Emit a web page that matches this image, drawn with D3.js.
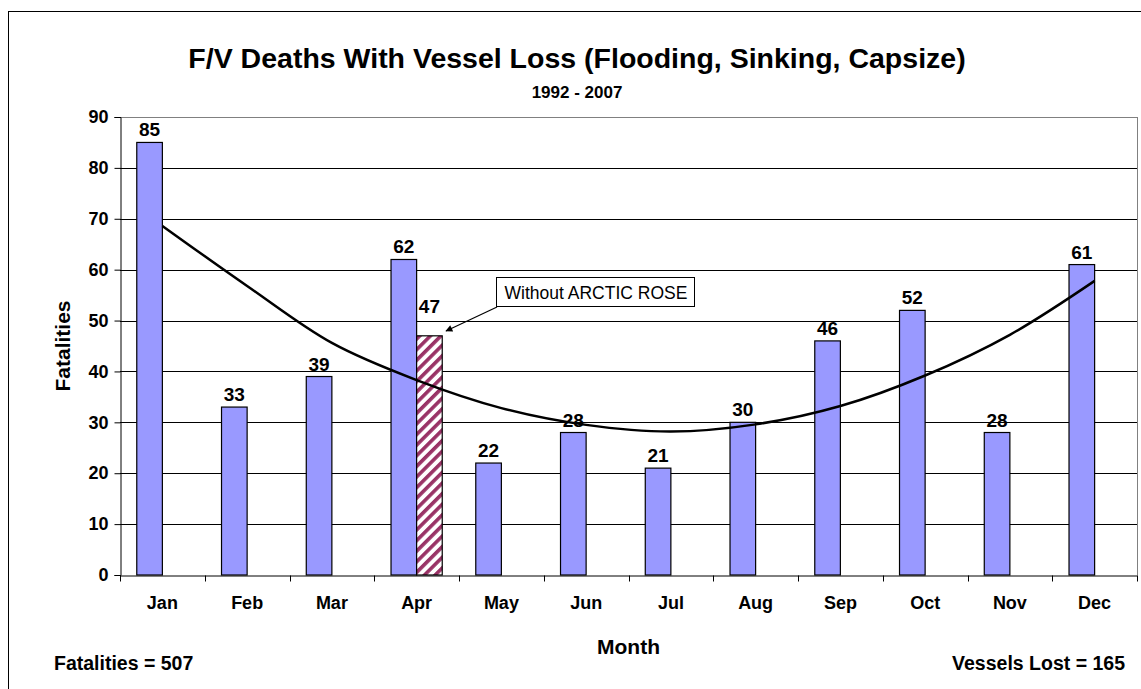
<!DOCTYPE html>
<html lang="en">
<head>
<meta charset="UTF-8">
<script src="https://d3js.org/d3.v7.min.js"></script>
<style>
    body { margin: 0; background: #fff; }
    svg text { font-family: Arial, "Liberation Sans", sans-serif; fill: #000; }
    .bold { font-weight: bold; }
</style>
<title>F/V Deaths With Vessel Loss</title>
</head>
<body>
<svg id="chart" width="1141" height="689"></svg>
<script>
    // data
    var months = ["Jan", "Feb", "Mar", "Apr", "May", "Jun", "Jul", "Aug", "Sep", "Oct", "Nov", "Dec"];
    var fatalities = [85, 33, 39, 62, 22, 28, 21, 30, 46, 52, 28, 61];
    var withoutArcticRose = [null, null, null, 47, null, null, null, null, null, null, null, null];
    // trendline as drawn (read at each month)
    var trend = [68.6, 56.8, 45.6, 38.3, 32.8, 29.5, 28.2, 29.6, 33.2, 39.2, 47.2, 57.8];
    var yTicks = [0, 10, 20, 30, 40, 50, 60, 70, 80, 90];

    var svg = d3.select("#chart");
    var plot = {left: 120, right: 1137, top: 117, bottom: 575};

    // hatch pattern for the "without ARCTIC ROSE" bar
    var defs = svg.append("defs");
    var pat = defs.append("pattern")
        .attr("id", "hatch")
        .attr("patternUnits", "userSpaceOnUse")
        .attr("width", 7.5).attr("height", 7.5)
        .attr("patternTransform", "rotate(45)");
    pat.append("rect").attr("width", 7.5).attr("height", 7.5).attr("fill", "#fff");
    pat.append("rect").attr("width", 3.6).attr("height", 7.5).attr("fill", "#993366");

    defs.append("marker")
        .attr("id", "arrow")
        .attr("viewBox", "0 0 10 10")
        .attr("refX", 9).attr("refY", 5)
        .attr("markerWidth", 10).attr("markerHeight", 7)
        .attr("markerUnits", "userSpaceOnUse")
        .attr("orient", "auto")
        .append("path").attr("d", "M0,0 L10,5 L0,10 z").attr("fill", "#000");

    // outer frame (runs off the right and bottom edges)
    svg.append("rect")
        .attr("x", 8.5).attr("y", 11.5)
        .attr("width", 1200).attr("height", 700)
        .attr("fill", "none").attr("stroke", "#000");

    var x = d3.scaleBand().domain(months).range([plot.left, plot.right]);
    var xSub = d3.scaleBand().domain(["all", "without"])
        .range([0, x.bandwidth()]).paddingOuter(0.655);
    var y = d3.scaleLinear().domain([0, 90]).range([plot.bottom, plot.top]);

    // gridlines
    svg.append("g").selectAll("line")
        .data(yTicks.slice(1))
        .enter().append("line")
        .attr("x1", plot.left).attr("x2", plot.right)
        .attr("y1", function (d) { return Math.round(y(d)) + 0.5; })
        .attr("y2", function (d) { return Math.round(y(d)) + 0.5; })
        .attr("stroke", function (d) { return d == 90 ? "#808080" : "#000"; });

    // right border of plot area
    svg.append("line")
        .attr("x1", plot.right + 0.5).attr("x2", plot.right + 0.5)
        .attr("y1", plot.top).attr("y2", plot.bottom)
        .attr("stroke", "#808080");

    // bars
    svg.append("g").selectAll("rect")
        .data(fatalities)
        .enter().append("rect")
        .attr("x", function (d, i) { return x(months[i]) + xSub("all"); })
        .attr("y", function (d) { return y(d); })
        .attr("width", xSub.bandwidth())
        .attr("height", function (d) { return y(0) - y(d); })
        .attr("fill", "#9999ff")
        .attr("stroke", "#000").attr("stroke-width", 1.2);

    var hatched = withoutArcticRose.map(function (d, i) { return {m: months[i], v: d}; })
        .filter(function (d) { return d.v != null; });

    svg.append("g").selectAll("rect")
        .data(hatched)
        .enter().append("rect")
        .attr("x", function (d) { return x(d.m) + xSub("without"); })
        .attr("y", function (d) { return y(d.v); })
        .attr("width", xSub.bandwidth())
        .attr("height", function (d) { return y(0) - y(d.v); })
        .attr("fill", "url(#hatch)")
        .attr("stroke", "#000").attr("stroke-width", 1.2);

    // data labels
    svg.append("g").selectAll("text")
        .data(fatalities)
        .enter().append("text")
        .attr("class", "bold")
        .attr("x", function (d, i) { return x(months[i]) + xSub("all") + xSub.bandwidth() / 2; })
        .attr("y", function (d) { return y(d) - 6; })
        .attr("text-anchor", "middle")
        .style("font-size", "19px")
        .text(function (d) { return d; });

    svg.append("g").selectAll("text")
        .data(hatched)
        .enter().append("text")
        .attr("class", "bold")
        .attr("x", function (d) { return x(d.m) + xSub("without") + xSub.bandwidth() / 2; })
        .attr("y", function (d) { return y(d.v) - 23; })
        .attr("text-anchor", "middle")
        .style("font-size", "19px")
        .text(function (d) { return d.v; });

    // trend line
    var line = d3.line()
        .x(function (d, i) { return x(months[i]) + x.bandwidth() / 2; })
        .y(function (d) { return y(d); })
        .curve(d3.curveCatmullRom);
    svg.append("path")
        .datum(trend)
        .attr("d", line)
        .attr("fill", "none")
        .attr("stroke", "#000")
        .attr("stroke-width", 2.5);

    // axes
    var yAxis = svg.append("g")
        .attr("transform", "translate(" + (plot.left + 0.5) + ",0)")
        .call(d3.axisLeft(y).tickValues(yTicks).tickSize(6).tickPadding(6));
    yAxis.select(".domain").attr("stroke", "#000");
    yAxis.selectAll("text").attr("class", "bold").style("font-size", "18px");

    var xAxis = svg.append("g")
        .attr("transform", "translate(0," + (plot.bottom + 0.5) + ")")
        .call(d3.axisBottom(x).tickSize(0).tickPadding(21));
    xAxis.select(".domain").attr("stroke", "#000");
    xAxis.selectAll("text").attr("class", "bold").style("font-size", "18px");
    // category boundary ticks
    xAxis.append("g").selectAll("line")
        .data(months.concat(["end"]))
        .enter().append("line")
        .attr("x1", function (d, i) { return Math.round(plot.left + i * x.step()) + 0.5; })
        .attr("x2", function (d, i) { return Math.round(plot.left + i * x.step()) + 0.5; })
        .attr("y1", 0).attr("y2", 6)
        .attr("stroke", "#000");

    // titles
    svg.append("text").attr("class", "bold")
        .attr("x", 577).attr("y", 68)
        .attr("text-anchor", "middle")
        .style("font-size", "28.5px")
        .text("F/V Deaths With Vessel Loss (Flooding, Sinking, Capsize)");
    svg.append("text").attr("class", "bold")
        .attr("x", 577).attr("y", 98)
        .attr("text-anchor", "middle")
        .style("font-size", "17px")
        .text("1992 - 2007");

    svg.append("text").attr("class", "bold")
        .attr("x", (plot.left + plot.right) / 2).attr("y", 654)
        .attr("text-anchor", "middle")
        .style("font-size", "21px")
        .text("Month");
    svg.append("text").attr("class", "bold")
        .attr("transform", "translate(70," + ((plot.top + plot.bottom) / 2) + ") rotate(-90)")
        .attr("text-anchor", "middle")
        .style("font-size", "21px")
        .text("Fatalities");

    svg.append("text").attr("class", "bold")
        .attr("x", 54).attr("y", 670)
        .style("font-size", "19.5px")
        .text("Fatalities = 507");
    svg.append("text").attr("class", "bold")
        .attr("x", 1125).attr("y", 670)
        .attr("text-anchor", "end")
        .style("font-size", "19.5px")
        .text("Vessels Lost = 165");

    // annotation
    var note = svg.append("g");
    note.append("rect")
        .attr("x", 496.5).attr("y", 277.5)
        .attr("width", 198).attr("height", 29)
        .attr("fill", "#fff").attr("stroke", "#000");
    note.append("text")
        .attr("x", 596).attr("y", 298.5)
        .attr("text-anchor", "middle")
        .style("font-size", "17.5px")
        .text("Without ARCTIC ROSE");
    note.append("line")
        .attr("x1", 497).attr("y1", 307)
        .attr("x2", 446).attr("y2", 331)
        .attr("stroke", "#000").attr("stroke-width", 1.2)
        .attr("marker-end", "url(#arrow)");
</script>
</body>
</html>
